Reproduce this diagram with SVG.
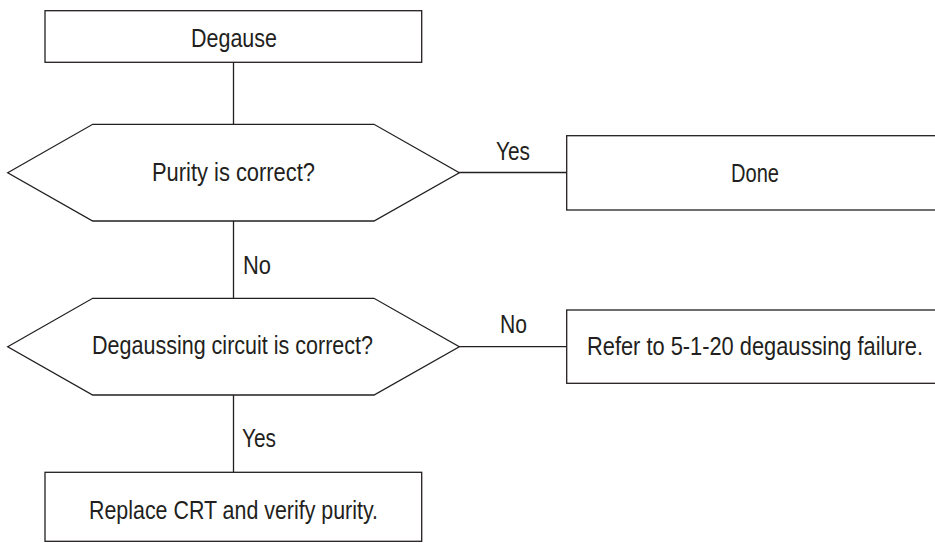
<svg xmlns="http://www.w3.org/2000/svg" width="935" height="543" viewBox="0 0 935 543">
<style>
  .shape { fill: #ffffff; stroke: #231f20; stroke-width: 1.3; }
  .conn line { stroke: #231f20; stroke-width: 1.3; }
  text { font-family: "Liberation Sans", Arial, sans-serif; font-size: 25px; fill: #231f20; }
  .c { text-anchor: middle; }
</style>
<rect width="935" height="543" fill="#ffffff"/>
<g id="connectors" class="conn">
  <line x1="233.5" y1="62" x2="233.5" y2="124.5"/>
  <line x1="233.5" y1="221" x2="233.5" y2="298.5"/>
  <line x1="233.5" y1="395" x2="233.5" y2="472.5"/>
  <line x1="459.3" y1="172.5" x2="567" y2="172.5"/>
  <line x1="459.3" y1="346.7" x2="567" y2="346.7"/>
  <text x="243" y="273.5" textLength="28" lengthAdjust="spacingAndGlyphs">No</text>
  <text x="242" y="446.5" textLength="34" lengthAdjust="spacingAndGlyphs">Yes</text>
  <text x="496" y="160" textLength="34" lengthAdjust="spacingAndGlyphs">Yes</text>
  <text x="500" y="333" textLength="27" lengthAdjust="spacingAndGlyphs">No</text>
</g>
<g id="degause">
  <rect class="shape" x="45" y="10.7" width="376.7" height="51.6"/>
  <text class="c" x="234" y="46.5" textLength="86" lengthAdjust="spacingAndGlyphs">Degause</text>
</g>
<g id="purity">
  <polygon class="shape" points="7.7,172.7 92.7,124.3 374,124.3 459.3,172.7 374,221 92.7,221"/>
  <text class="c" x="233.5" y="180.5" textLength="163" lengthAdjust="spacingAndGlyphs">Purity is correct?</text>
</g>
<g id="done">
  <rect class="shape" x="566.7" y="135.7" width="377" height="74.3"/>
  <text class="c" x="755" y="181.7" textLength="48" lengthAdjust="spacingAndGlyphs">Done</text>
</g>
<g id="degaussing-circuit">
  <polygon class="shape" points="7.7,346.7 92.7,298.3 374,298.3 459.3,346.7 374,395 92.7,395"/>
  <text class="c" x="232.5" y="354" textLength="281" lengthAdjust="spacingAndGlyphs">Degaussing circuit is correct?</text>
</g>
<g id="refer">
  <rect class="shape" x="566.7" y="310" width="377" height="73.3"/>
  <text x="587" y="355" textLength="336" lengthAdjust="spacingAndGlyphs">Refer to 5-1-20 degaussing failure.</text>
</g>
<g id="replace">
  <rect class="shape" x="45" y="472.3" width="376.7" height="69"/>
  <text class="c" x="233.5" y="518.5" textLength="289" lengthAdjust="spacingAndGlyphs">Replace CRT and verify purity.</text>
</g>
</svg>
